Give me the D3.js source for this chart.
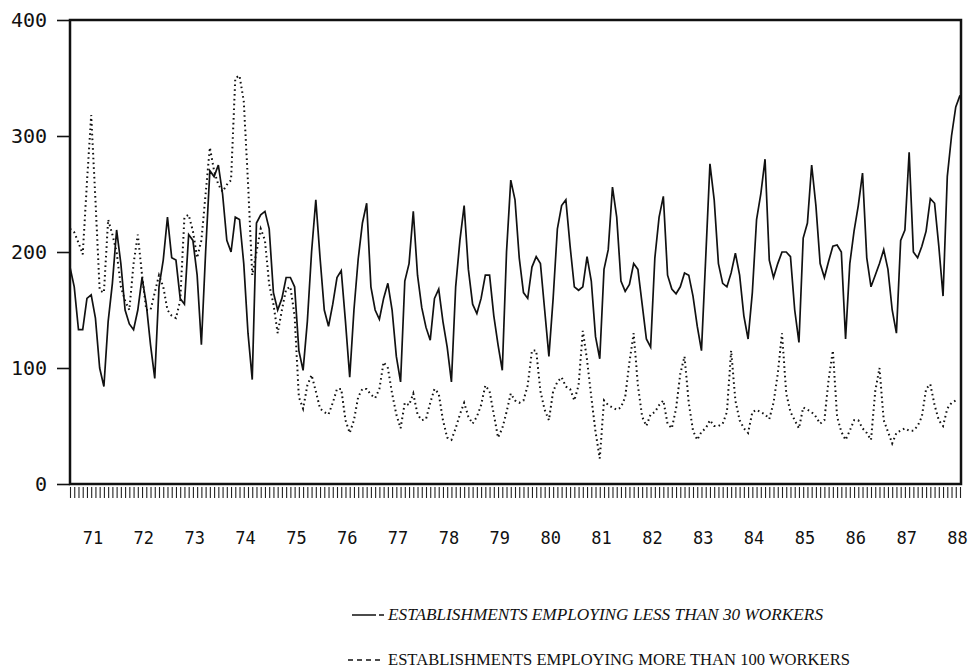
<!DOCTYPE html>
<html>
<head>
<meta charset="utf-8">
<script src="https://cdn.jsdelivr.net/npm/d3@7"></script>
<style>
  body { margin: 0; background: #fff; }
  .axis text { font-family: "DejaVu Sans Mono", monospace; fill: #111; }
  .axis path { display: none; }
  .legend-text { font-family: "Liberation Serif", "DejaVu Serif", serif; fill: #111; }
</style>
</head>
<body>
<div id="chart"></div>
<script>
// Monthly series, Jan 1971 onward
const smallFirms = [
  187,170,133,133,160,163,143,100,84,140,173,219,
  190,150,138,133,150,178,155,120,91,170,193,230,
  195,193,160,155,215,210,180,120,200,270,265,275,
  250,210,200,230,228,190,130,90,225,232,235,220,
  165,150,160,178,178,170,115,98,140,200,245,195,
  150,136,155,178,184,140,92,150,194,225,242,170,
  150,142,160,173,150,110,88,175,190,235,180,152,
  135,124,160,168,140,118,88,170,210,240,185,155,
  147,160,180,180,145,120,98,200,262,245,195,165,
  160,187,196,190,150,110,160,220,240,245,205,170,
  167,170,196,175,127,108,185,202,256,230,175,166,
  172,190,185,155,125,118,195,230,248,180,168,164,
  170,182,180,162,136,115,195,276,245,190,173,170,
  182,199,180,145,125,165,228,250,280,193,178,190,
  200,200,196,150,122,212,225,275,240,190,178,192,
  205,206,200,125,190,218,240,268,195,170,180,190,
  202,185,150,130,210,219,286,200,195,205,218,246,
  242,205,162,265,300,325,335
];

const largeFirms = [
  220,217,208,198,260,318,245,167,165,228,215,200,
  170,158,150,190,215,180,150,150,165,180,170,150,
  145,143,158,230,232,218,195,210,250,290,270,258,
  252,258,262,350,352,330,260,180,200,220,210,172,
  155,130,150,168,170,145,75,65,85,94,80,65,
  62,60,70,82,82,55,44,55,75,82,82,77,
  74,82,105,100,78,60,48,70,68,78,60,55,
  56,70,82,78,55,40,38,48,60,70,58,52,
  58,68,85,80,60,40,48,62,78,72,70,72,
  85,115,115,80,64,55,80,88,92,84,82,72,
  85,132,107,75,45,22,72,68,66,64,66,75,
  105,130,85,58,50,60,62,68,72,52,48,65,
  95,110,70,46,38,45,48,55,50,50,52,62,
  115,72,55,48,44,62,64,62,60,56,70,95,
  130,78,62,55,48,66,64,62,58,52,55,90,
  115,58,45,38,46,55,55,48,44,38,80,100,
  55,45,35,44,46,48,46,46,50,58,82,86,
  68,55,50,65,70,72,null
];

const yearLabels = ['71','72','73','74','75','76','77','78','79','80','81','82','83','84','85','86','87','88'];
const yTicks = [0, 100, 200, 300, 400];
const legendLabels = [
  'ESTABLISHMENTS EMPLOYING LESS THAN 30 WORKERS',
  'ESTABLISHMENTS EMPLOYING MORE THAN 100 WORKERS'
];

class LineChart {
  constructor(_config) {
    this.config = {
      parentElement: _config.parentElement,
      containerWidth: 968,
      containerHeight: 670,
      margin: {top: 20, right: 5, bottom: 186, left: 70}
    };
    this.initVis();
  }

  initVis() {
    let vis = this;

    vis.width = vis.config.containerWidth - vis.config.margin.left - vis.config.margin.right;
    vis.height = vis.config.containerHeight - vis.config.margin.top - vis.config.margin.bottom;

    vis.svg = d3.select(vis.config.parentElement).append('svg')
      .attr('width', vis.config.containerWidth)
      .attr('height', vis.config.containerHeight);

    vis.chart = vis.svg.append('g')
      .attr('transform', `translate(${vis.config.margin.left},${vis.config.margin.top})`);

    // month index -> x
    vis.xScale = d3.scaleLinear()
      .domain([0, smallFirms.length - 1])
      .range([0, vis.width - 3]);

    vis.yScale = d3.scaleLinear()
      .domain([0, 400])
      .range([vis.height, 0]);

    vis.renderVis();
  }

  renderVis() {
    let vis = this;

    // y axis
    vis.chart.append('g')
      .attr('class', 'axis y-axis')
      .call(d3.axisLeft(vis.yScale).tickValues(yTicks).tickSize(13).tickPadding(10))
      .call(g => g.selectAll('.tick line').attr('stroke', '#111').attr('stroke-width', 1.6))
      .call(g => g.selectAll('.tick text').attr('font-size', 20));

    // monthly ruler ticks
    vis.chart.append('g')
      .attr('class', 'axis month-axis')
      .attr('transform', `translate(0,${vis.height + 3})`)
      .call(d3.axisBottom(vis.xScale).tickValues(d3.range(smallFirms.length)).tickSize(11).tickFormat(''))
      .call(g => g.selectAll('.tick line').attr('stroke', '#222').attr('stroke-width', 1.1));

    // year labels
    vis.chart.append('g')
      .attr('class', 'axis year-axis')
      .attr('transform', `translate(0,${vis.height})`)
      .call(d3.axisBottom(vis.xScale)
        .tickValues(yearLabels.map((d, i) => i * 12 + 5.3))
        .tickFormat((d, i) => yearLabels[i])
        .tickSize(0).tickPadding(48))
      .call(g => g.selectAll('.tick text').attr('font-size', 17));

    const line = d3.line()
      .defined(d => d != null)
      .x((d, i) => vis.xScale(i))
      .y(d => vis.yScale(d));

    vis.chart.append('path')
      .datum(largeFirms)
      .attr('fill', 'none')
      .attr('stroke', '#111')
      .attr('stroke-width', 2)
      .attr('stroke-dasharray', '1.6,3.2')
      .attr('d', line);

    vis.chart.append('path')
      .datum(smallFirms)
      .attr('fill', 'none')
      .attr('stroke', '#111')
      .attr('stroke-width', 1.7)
      .attr('stroke-linejoin', 'miter')
      .attr('d', line);

    // frame
    vis.chart.append('rect')
      .attr('x', 0).attr('y', 0)
      .attr('width', vis.width - 2).attr('height', vis.height)
      .attr('fill', 'none')
      .attr('stroke', '#111')
      .attr('stroke-width', 2.5);

    // legend
    const legend = vis.svg.append('g').attr('transform', 'translate(350,0)');
    const rows = [
      {y: 620, dash: '24,3,6,0', italic: true, len: 435},
      {y: 665, dash: '5,4', italic: false, len: 462}
    ];
    rows.forEach((r, i) => {
      legend.append('line')
        .attr('x1', i === 0 ? 2 : -2).attr('x2', 34)
        .attr('y1', r.y - 5).attr('y2', r.y - 5)
        .attr('stroke', '#111')
        .attr('stroke-width', 1.3)
        .attr('stroke-dasharray', r.dash);
      legend.append('text')
        .attr('class', 'legend-text')
        .attr('x', 38)
        .attr('y', r.y)
        .attr('font-size', 16.5)
        .attr('font-style', r.italic ? 'italic' : 'normal')
        .attr('textLength', r.len)
        .attr('lengthAdjust', 'spacingAndGlyphs')
        .text(legendLabels[i]);
    });
  }
}

new LineChart({parentElement: '#chart'});
</script>
</body>
</html>
